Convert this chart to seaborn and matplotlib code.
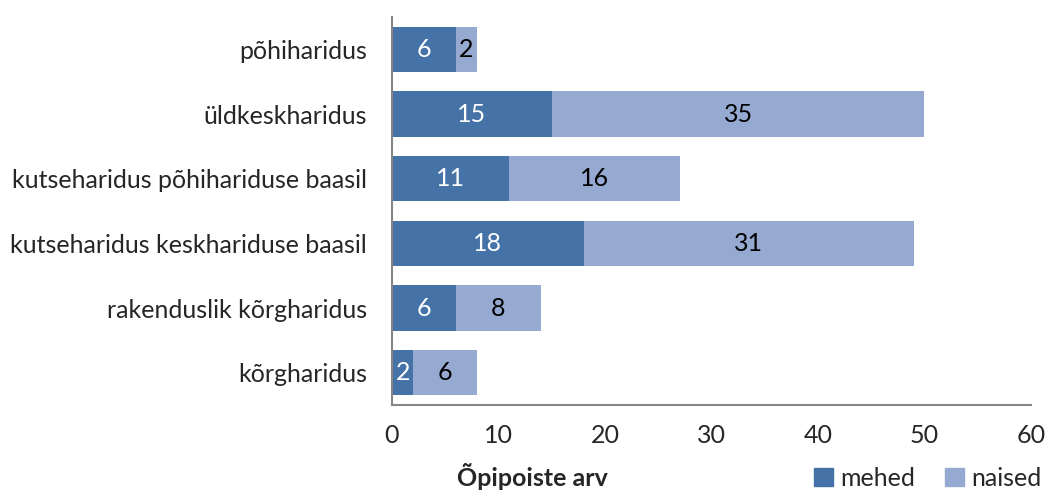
import numpy as np
import pandas as pd
import matplotlib
matplotlib.use('Agg')
import matplotlib.pyplot as plt
from matplotlib.patches import Patch
import seaborn as sns

categories = [
    'põhiharidus',
    'üldkeskharidus',
    'kutseharidus põhihariduse baasil',
    'kutseharidus keskhariduse baasil',
    'rakenduslik kõrgharidus',
    'kõrgharidus',
]
mehed = [6, 15, 11, 18, 6, 2]
naised = [2, 35, 16, 31, 8, 6]
x_ticks = [0, 10, 20, 30, 40, 50, 60]

MEHED_COLOR = '#4572A7'
NAISED_COLOR = '#95A9D1'
AXIS_COLOR = '#868686'
FS = 18

sns.set_style('white')
plt.rcParams['font.family'] = ['Lato', 'DejaVu Sans']

df = pd.DataFrame({'kategooria': categories, 'mehed': mehed, 'naised': naised})
df['kokku'] = df['mehed'] + df['naised']

fig = plt.figure(figsize=(10.47, 4.93), dpi=100)
ax = fig.add_axes([0.3744, 0.1785, 0.6103, 0.787])

# stacked: total first (naised colour), mehed on top
sns.barplot(data=df, x='kokku', y='kategooria', color=NAISED_COLOR,
            orient='h', width=0.7, saturation=1, linewidth=0, ax=ax)
sns.barplot(data=df, x='mehed', y='kategooria', color=MEHED_COLOR,
            orient='h', width=0.7, saturation=1, linewidth=0, ax=ax)

for i, row in df.iterrows():
    ax.text(row['mehed'] / 2, i, str(row['mehed']), ha='center', va='center',
            color='white', fontsize=FS)
    ax.text(row['mehed'] + row['naised'] / 2, i, str(row['naised']),
            ha='center', va='center', color='black', fontsize=FS)

ax.set_xlim(0, 60)
ax.set_ylim(len(categories) - 0.5, -0.5)
ax.set_xticks(x_ticks)
ax.set_xticklabels([str(t) for t in x_ticks], fontsize=FS)
ax.set_yticks(range(len(categories)))
ax.set_yticklabels(categories, fontsize=FS)
ax.set_yticks(np.arange(-0.5, len(categories), 1), minor=True)
ax.tick_params(axis='y', which='major', length=0, pad=18)
ax.tick_params(axis='y', which='minor', length=6, width=1.5, color=AXIS_COLOR, direction='out')
ax.tick_params(axis='x', length=6, width=1.5, color=AXIS_COLOR, direction='out', pad=8)

ax.set_xlabel('Õpipoiste arv', fontsize=FS, fontweight='bold')
ax.xaxis.set_label_coords(0.22, -0.183)
ax.xaxis.label.set_va('center')
ax.set_ylabel('')

for side in ['top', 'right']:
    ax.spines[side].set_visible(False)
for side in ['left', 'bottom']:
    ax.spines[side].set_color(AXIS_COLOR)
    ax.spines[side].set_linewidth(1.5)
ax.grid(False)

handles = [Patch(color=MEHED_COLOR, label='mehed'), Patch(color=NAISED_COLOR, label='naised')]
fig.legend(handles=handles, loc='center right', bbox_to_anchor=(0.995, 0.03), ncol=2,
           frameon=False, fontsize=FS, handlelength=0.75, handleheight=0.75,
           handletextpad=0.3, columnspacing=1.2, borderaxespad=0, borderpad=0)

fig.savefig('out.png', dpi=100)
plt.close(fig)
